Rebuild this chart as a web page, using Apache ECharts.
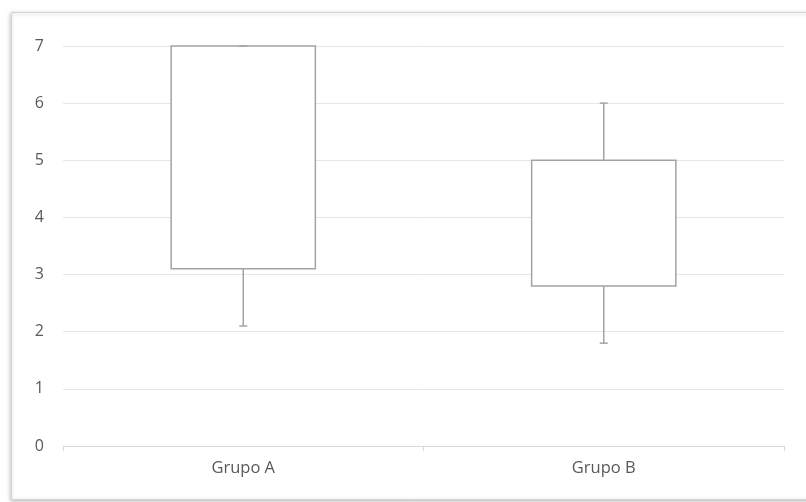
<!DOCTYPE html>
<html>
<head>
<meta charset="utf-8">
<style>html,body{margin:0;padding:0;background:#fff;}#c{width:806px;height:502px;}</style>
<script src="https://cdn.jsdelivr.net/npm/echarts@6/dist/echarts.min.js"></script>
</head>
<body>
<div id="c"></div>
<script>
const categories = ['Grupo A', 'Grupo B'];
const whiskerLow = [2.1, 1.8];
const q1 = [3.1, 2.8];
const q3 = [7, 5];
const whiskerHigh = [7, 6];
const yTicks = [0, 1, 2, 3, 4, 5, 6, 7];

const boxData = categories.map((c, i) => [i, whiskerLow[i], q1[i], q3[i], whiskerHigh[i]]);
const chart = echarts.init(document.getElementById('c'));
const stroke = '#a3a3a3';
chart.setOption({
  animation: false,
  graphic: [{
    type: 'rect', z: -100, silent: true,
    shape: { x: 11.5, y: 12.5, width: 820, height: 487 },
    style: { fill: '#fff', stroke: '#d4d4d4', lineWidth: 1, shadowBlur: 4, shadowColor: 'rgba(0,0,0,0.25)', shadowOffsetX: -1, shadowOffsetY: 1 }
  }],
  grid: { left: 63, right: 22, top: 46, bottom: 56 },
  xAxis: {
    type: 'category', data: categories, boundaryGap: true,
    axisLine: { lineStyle: { color: '#d9d9d9' } },
    axisTick: { show: true, alignWithLabel: false, length: 5, lineStyle: { color: '#d9d9d9' } },
    axisLabel: { color: '#595959', fontFamily: 'Open Sans', fontSize: 16.5, margin: 14 }
  },
  yAxis: {
    type: 'value', min: yTicks[0], max: yTicks[yTicks.length - 1], interval: 1,
    axisLine: { show: false }, axisTick: { show: false },
    splitLine: { lineStyle: { color: '#e6e6e6' } },
    axisLabel: { color: '#595959', fontFamily: 'Open Sans', fontSize: 16, margin: 19 }
  },
  series: [{
    type: 'custom',
    data: boxData,
    encode: { x: 0, y: [1, 2, 3, 4] },
    renderItem: function (params, api) {
      const idx = api.value(0);
      const pLow = api.coord([idx, api.value(1)]);
      const pQ1 = api.coord([idx, api.value(2)]);
      const pQ3 = api.coord([idx, api.value(3)]);
      const pHigh = api.coord([idx, api.value(4)]);
      const bw = api.size([1, 0])[0] * 0.4;
      const cx = pQ1[0];
      const cap = 4;
      const st = { stroke: stroke, lineWidth: 1.5, fill: null };
      return {
        type: 'group',
        children: [
          { type: 'rect', shape: { x: cx - bw / 2, y: pQ3[1], width: bw, height: pQ1[1] - pQ3[1] }, style: { stroke: stroke, lineWidth: 1.5, fill: '#fff' } },
          { type: 'line', shape: { x1: cx, y1: pQ3[1], x2: cx, y2: pHigh[1] }, style: st },
          { type: 'line', shape: { x1: cx - cap, y1: pHigh[1], x2: cx + cap, y2: pHigh[1] }, style: st },
          { type: 'line', shape: { x1: cx, y1: pQ1[1], x2: cx, y2: pLow[1] }, style: st },
          { type: 'line', shape: { x1: cx - cap, y1: pLow[1], x2: cx + cap, y2: pLow[1] }, style: st }
        ]
      };
    }
  }]
});
</script>
</body>
</html>
